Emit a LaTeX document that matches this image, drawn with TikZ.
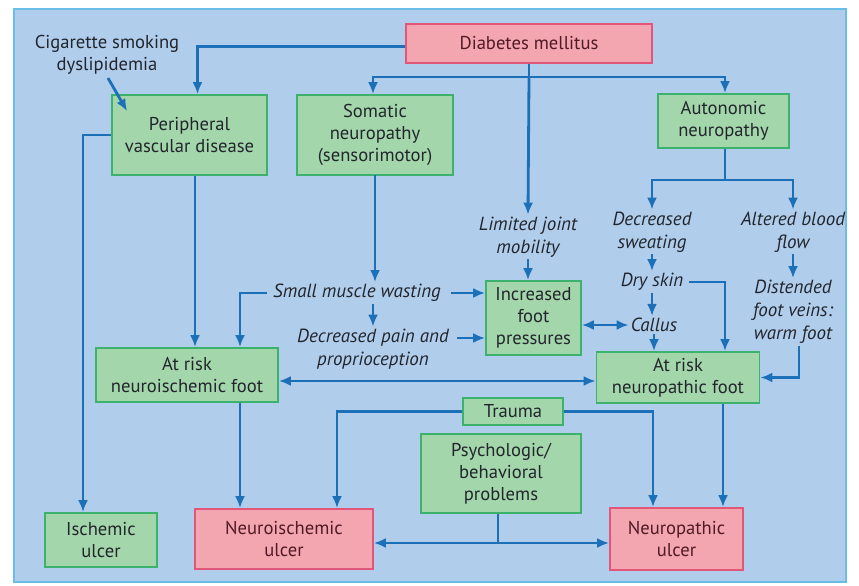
\documentclass[tikz,border=0pt]{standalone}
\usepackage{fontspec}
\setmainfont{PT Sans}
\usetikzlibrary{arrows.meta,calc}
\definecolor{bgblue}{RGB}{176,205,236}
\definecolor{rimblue}{RGB}{105,190,232}
\definecolor{boxgreen}{RGB}{164,214,172}
\definecolor{edgegreen}{RGB}{60,178,108}
\definecolor{boxpink}{RGB}{244,166,176}
\definecolor{edgepink}{RGB}{226,86,122}
\definecolor{linkblue}{RGB}{28,112,184}
\definecolor{inkgray}{RGB}{34,38,44}
\definecolor{inkred}{RGB}{80,26,38}

\begin{document}
\begin{tikzpicture}[x=1pt,y=-1pt,
  every node/.style={font=\fontsize{18.6}{22}\selectfont, text=inkgray, align=center},
  gbox/.style={draw=edgegreen, fill=boxgreen, line width=1.8pt, inner sep=0pt},
  pbox/.style={draw=edgepink, fill=boxpink, line width=1.8pt, inner sep=0pt, text=inkred},
  note/.style={font=\fontsize{19}{23}\selectfont\itshape, inner sep=2pt},
  arr/.style={draw=linkblue, line width=2.8pt, -{Latex[length=12pt,width=10pt]}},
  arrs/.style={draw=linkblue, line width=2.8pt, {Latex[length=12pt,width=10pt]}-{Latex[length=12pt,width=10pt]}},
  link/.style={draw=linkblue, line width=2.8pt}]
\useasboundingbox (0,0) rectangle (859,586);
% frame
\fill[bgblue] (14,9) rectangle (846,582);
\draw[rimblue, line width=1.5pt] (14,9) rectangle (846,582);

% top row
\node[pbox, minimum width=246pt, minimum height=39pt] (dm) at (529,43.5) {Diabetes mellitus};
\node (cig) at (107,55) {Cigarette smoking\\dyslipidemia};
\node[gbox, minimum width=155pt, minimum height=80pt] (pvd) at (189.5,135) {Peripheral\\vascular disease};
\node[gbox, minimum width=156pt, minimum height=80pt] (som) at (375,135) {Somatic\\neuropathy\\(sensorimotor)};
\node[gbox, minimum width=131pt, minimum height=54pt] (aut) at (723.5,121) {Autonomic\\neuropathy};

% middle
\node[note] (ljm) at (528,237) {Limited joint\\mobility};
\node[note] (dsw) at (652,232) {Decreased\\sweating};
\node[note] (abf) at (793,232) {Altered blood\\flow};
\node[note] (dry) at (652,282) {Dry skin};
\node[note] (cal) at (654,325) {Callus};
\node[note] (dfv) at (793,312) {Distended\\foot veins:\\warm foot};
\node[note] (smw) at (357,293) {Small muscle wasting};
\node[note] (dpp) at (373,349) {Decreased pain and\\proprioception};
\node[gbox, minimum width=95pt, minimum height=74pt] (ifp) at (533.5,318) {Increased\\foot\\pressures};
\node[gbox, minimum width=182pt, minimum height=54pt] (arnis) at (187,375) {At risk\\neuroischemic foot};
\node[gbox, minimum width=163pt, minimum height=51pt] (arnp) at (678,377.5) {At risk\\neuropathic foot};

% bottom
\node[gbox, minimum width=100pt, minimum height=27pt] (trauma) at (513,411.5) {Trauma};
\node[gbox, minimum width=160pt, minimum height=79pt] (psy) at (501,473.5) {Psychologic/\\behavioral\\problems};
\node[gbox, minimum width=112pt, minimum height=54pt] (isu) at (101,540) {Ischemic\\ulcer};
\node[pbox, minimum width=178pt, minimum height=60pt] (niu) at (284,539) {Neuroischemic\\ulcer};
\node[pbox, minimum width=133pt, minimum height=62pt] (npu) at (676.5,539) {Neuropathic\\ulcer};

% connectors
\coordinate (j1) at (529,77);
\coordinate (j2) at (725,180);
\draw[arr] ([yshift=-3pt]dm.west) -| ([xshift=8pt]pvd.north);
\draw[link] (dm.south) -- (j1);
\draw[arr] (j1) -| ([xshift=-2pt]som.north);
\draw[arr] (j1) -| ([xshift=1.5pt]aut.north);
\draw[arr] (j1) -- (ljm.north);
\draw[arr] ([xshift=1pt]cig.south) -- ($(pvd.north west)+(16,17)$);
\draw[arr] ([xshift=5.5pt]pvd.south) -- ([xshift=8pt]arnis.north);
\draw[arr] (pvd.west) -| ([xshift=-18pt]isu.north);
\draw[arr] (som.south |- 0,175) -- (som.south |- smw.north);
\draw[arr] (smw.south -| dpp.north) -- (dpp.north);
\draw[arr, shorten <=8pt] (smw.east) -- (smw.east -| ifp.west);
\draw[arr, shorten <=6pt] ([yshift=11pt]dpp.east) -- ([yshift=11pt]dpp.east -| ifp.west);
\draw[arr, shorten <=4pt] (smw.west) -| ([xshift=53pt]arnis.north);
\draw[arr] (ljm.south) -- (ljm.south |- ifp.north);
\draw[arrs] (ifp.east |- cal.west) -- (cal.west);
\draw[arrs] ([yshift=-6pt]arnis.east) -- ([yshift=-6pt]arnis.east -| arnp.west);
\draw[link] (aut.south -| j2) -- (j2);
\draw[arr] (j2) -| (dsw.north);
\draw[arr] (j2) -| (abf.north);
\draw[arr] (dsw.south) -- (dry.north);
\draw[arr] (dry.south) -- (dry.south |- cal.north);
\draw[arr] (cal.south) -- (cal.south |- arnp.north);
\draw[arr, shorten <=4pt] (dry.east) -| ([xshift=47pt]arnp.north);
\draw[arr] (abf.south) -- (dfv.north);
\draw[arr] ([xshift=6pt]dfv.south) |- (arnp.east);
\draw[arr] ([xshift=53pt]arnis.south) -- ([xshift=53pt]arnis.south |- niu.north);
\draw[arr] (trauma.west) -| ([xshift=53pt]niu.north);
\draw[arr] (trauma.east) -| ([xshift=-23.5pt]npu.north);
\draw[arr] ([xshift=45pt]arnp.south) -- ([xshift=45pt]arnp.south |- npu.north);
\coordinate (j3) at (498,543);
\draw[link] (psy.south -| j3) -- (j3);
\draw[arr] (j3) -- (j3 -| niu.east);
\draw[arr] (j3) -- (j3 -| npu.west);
\end{tikzpicture}
\end{document}
